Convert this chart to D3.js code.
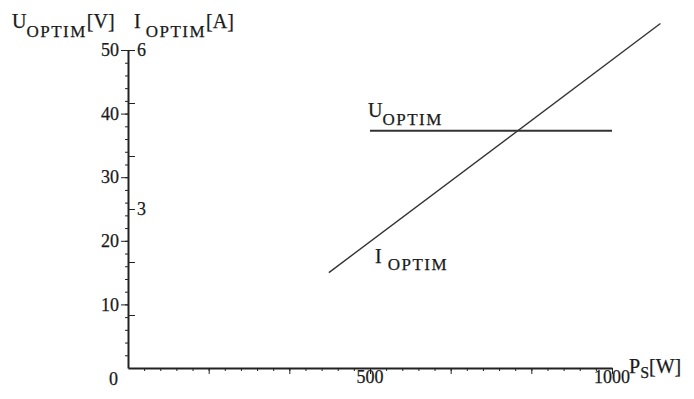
<!DOCTYPE html>
<html>
<head>
<meta charset="utf-8">
<script src="https://cdn.jsdelivr.net/npm/d3@7"></script>
<style>
  body { margin: 0; background: #fff; }
  svg { display: block; }
  .axis path, .axis line { stroke: #222; }
  .axis text { font-family: 'Liberation Serif', 'DejaVu Serif', serif; fill: #1a1a1a; stroke: #1a1a1a; stroke-width: 0.25; }
</style>
</head>
<body>
<svg id="chart" width="694" height="399"></svg>
<script>
// values
var powerDomain = [0, 1000]
var voltDomain = [0, 50]
var ampDomain = [0, 6]

var uPower = [500, 1000]
var uVolt = [37.3, 37.3]

var iPower = [415, 1100]
var iAmp = [1.8, 6.5]

var xLabels = [500, 1000]
var voltLabels = [10, 20, 30, 40, 50]
var ampLabels = [3, 6]

var svg = d3.select('#chart')
var font = "'Liberation Serif', 'DejaVu Serif', serif"

var x = d3.scaleLinear().domain(powerDomain).range([128, 612])
var yU = d3.scaleLinear().domain(voltDomain).range([368, 50])
var yI = d3.scaleLinear().domain(ampDomain).range([368, 50])

// x axis: major every 1000/6, minor every 1000/30
var xMajor = d3.range(1, 7).map(function(i) { return i * 1000 / 6 })
xMajor[5] = 1000
var xMinor = d3.range(1, 30).map(function(i) { return i * 1000 / 30 })

svg.append('g')
    .attr('class', 'axis')
    .attr('transform', 'translate(0,368)')
    .call(d3.axisBottom(x).tickValues(xMinor).tickSize(3).tickFormat('').tickSizeOuter(0))
    .select('.domain').attr('stroke-width', 2)

svg.append('g')
    .attr('class', 'axis')
    .attr('transform', 'translate(0,368)')
    .call(d3.axisBottom(x).tickValues(xMajor).tickSize(6).tickFormat('').tickSizeOuter(0))
    .select('.domain').remove()

svg.append('g')
    .attr('class', 'axis')
    .selectAll('text')
    .data(xLabels)
    .enter()
    .append('text')
    .attr('x', function(d) { return x(d) })
    .attr('y', 383)
    .attr('text-anchor', 'middle')
    .style('font-size', '18px')
    .text(function(d) { return d })

// left axis (volts)
var vMinor = d3.range(2, 50, 2)
svg.append('g')
    .attr('class', 'axis')
    .attr('transform', 'translate(128,0)')
    .call(d3.axisLeft(yU).tickValues(vMinor).tickSize(3).tickFormat('').tickSizeOuter(0))
    .select('.domain').attr('stroke-width', 2)

svg.append('g')
    .attr('class', 'axis')
    .attr('transform', 'translate(128,0)')
    .call(d3.axisLeft(yU).tickValues(voltLabels).tickSize(7).tickPadding(2).tickSizeOuter(0))
    .call(function(g) {
        g.select('.domain').remove()
        g.selectAll('text').style('font-size', '18px')
    })

// right side ticks (amps)
svg.append('g')
    .attr('class', 'axis')
    .attr('transform', 'translate(128,0)')
    .call(d3.axisRight(yI).tickValues(d3.range(1, 7)).tickSize(7).tickPadding(2).tickSizeOuter(0)
        .tickFormat(function(d) { return ampLabels.indexOf(d) >= 0 ? d : '' }))
    .call(function(g) {
        g.select('.domain').remove()
        g.selectAll('text').style('font-size', '18px')
    })

// origin label
svg.append('g')
    .attr('class', 'axis')
    .append('text')
    .attr('x', 118)
    .attr('y', 385)
    .attr('text-anchor', 'end')
    .style('font-size', '18px')
    .text('0')

// curves
var lineU = d3.line()
    .x(function(d) { return x(d[0]) })
    .y(function(d) { return yU(d[1]) })
var lineI = d3.line()
    .x(function(d) { return x(d[0]) })
    .y(function(d) { return yI(d[1]) })

svg.append('path')
    .datum(d3.zip(uPower, uVolt))
    .attr('d', lineU)
    .attr('fill', 'none')
    .attr('stroke', '#333')
    .attr('stroke-width', 2.2)

svg.append('path')
    .datum(d3.zip(iPower, iAmp))
    .attr('d', lineI)
    .attr('fill', 'none')
    .attr('stroke', '#333')
    .attr('stroke-width', 1.4)

// labels with subscripts
function label(px, py, parts) {
    var t = svg.append('text')
        .attr('x', px)
        .attr('y', py)
        .style('font-family', font)
        .style('fill', '#1a1a1a')
        .style('stroke', '#1a1a1a')
        .style('stroke-width', 0.25)
    parts.forEach(function(p) {
        t.append('tspan')
            .attr('dy', p.dy || 0)
            .attr('dx', p.dx || 0)
            .style('font-size', p.size + 'px')
            .style('letter-spacing', (p.ls || 0) + 'px')
            .text(p.text)
    })
}

label(12, 28, [
    { text: 'U', size: 20 },
    { text: 'OPTIM', size: 17, dy: 9, ls: 1.5 },
    { text: '[V]', size: 20, dy: -9 }
])
label(134, 28, [
    { text: 'I', size: 20 },
    { text: 'OPTIM', size: 17, dy: 9, dx: 5, ls: 1.5 },
    { text: '[A]', size: 20, dy: -9 }
])
label(368, 117, [
    { text: 'U', size: 20 },
    { text: 'OPTIM', size: 17, dy: 8, ls: 1.5 }
])
label(375, 263, [
    { text: 'I', size: 20 },
    { text: 'OPTIM', size: 17, dy: 7, dx: 6, ls: 1.5 }
])
label(629, 373, [
    { text: 'P', size: 20 },
    { text: 'S', size: 16, dy: 5 },
    { text: '[W]', size: 20, dy: -5 }
])
</script>
</body>
</html>
